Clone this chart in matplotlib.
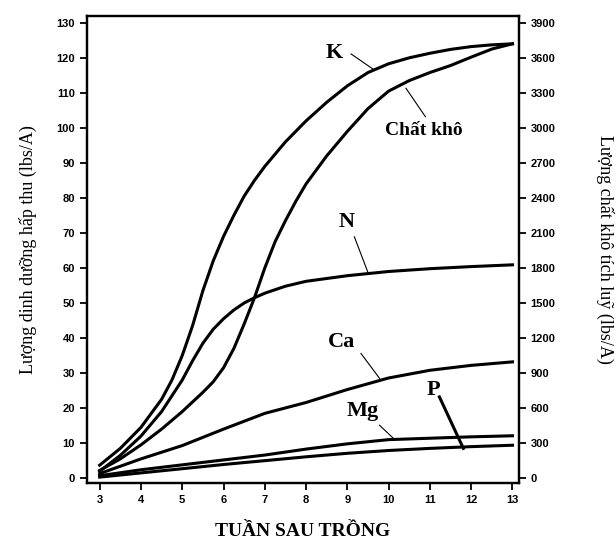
import matplotlib
matplotlib.use("Agg")
import matplotlib.pyplot as plt
import numpy as np

# tuần sau trồng
weeks_k = [3, 3.5, 4, 4.5, 4.75, 5, 5.25, 5.5, 5.75, 6, 6.25, 6.5, 6.75, 7, 7.5,
           8, 8.5, 9, 9.5, 10, 10.5, 11, 11.5, 12, 12.5, 13]
k_vals = [3.7, 8.5, 14.5, 22.5, 28, 35, 43.5, 53.5, 62, 69, 75, 80.5, 85, 89,
          96, 102, 107.3, 112, 115.8, 118.3, 120, 121.3, 122.4, 123.2, 123.7, 124]

weeks_dm = [3, 3.5, 4, 4.5, 5, 5.5, 5.75, 6, 6.25, 6.5, 6.75, 7, 7.25, 7.5, 7.75,
            8, 8.25, 8.5, 8.75, 9, 9.5, 10, 10.5, 11, 11.5, 12, 12.5, 13]
dm_vals = [66, 165, 285, 420, 570, 735, 825, 945, 1110, 1320, 1545, 1800, 2025,
           2205, 2370, 2520, 2640, 2760, 2865, 2970, 3165, 3315, 3405, 3474,
           3534, 3606, 3675, 3720]

weeks_n = [3, 3.5, 4, 4.5, 5, 5.25, 5.5, 5.75, 6, 6.25, 6.5, 6.75, 7, 7.5, 8, 9,
           10, 11, 12, 13]
n_vals = [2, 6.5, 12, 19, 28, 33.5, 38.5, 42.5, 45.5, 48, 50, 51.5, 52.8, 54.8,
          56.2, 57.8, 59, 59.8, 60.4, 60.9]

weeks = [3, 4, 5, 6, 7, 8, 9, 10, 11, 12, 13]
ca_vals = [1.3, 5.5, 9.3, 14, 18.5, 21.6, 25.3, 28.6, 30.8, 32.2, 33.2]
mg_vals = [0.7, 2.4, 3.8, 5.2, 6.6, 8.3, 9.8, 11, 11.4, 11.8, 12.1]
p_vals = [0.3, 1.5, 2.7, 3.9, 5, 6.1, 7.1, 7.9, 8.5, 9, 9.4]

yticks_left = list(range(0, 131, 10))
yticks_right = list(range(0, 3901, 300))

fig = plt.figure(figsize=(6.16, 5.44), dpi=100)
ax = fig.add_axes([0.141, 0.112, 0.701, 0.859])
ax2 = ax.twinx()

lw = 2.2
ax.plot(weeks_k, k_vals, color='black', lw=lw)
ax.plot(weeks_n, n_vals, color='black', lw=lw)
ax.plot(weeks, ca_vals, color='black', lw=lw)
ax.plot(weeks, mg_vals, color='black', lw=lw)
ax.plot(weeks, p_vals, color='black', lw=lw)
ax2.plot(weeks_dm, dm_vals, color='black', lw=lw)

ax.set_xlim(2.69, 13.15)
ax.set_ylim(-1.4, 132)
ax2.set_ylim(-42, 3960)
ax.set_xticks(weeks)
ax.set_yticks(yticks_left)
ax2.set_yticks(yticks_right)

for a in (ax, ax2):
    for s in a.spines.values():
        s.set_linewidth(1.6)
    a.tick_params(length=5, width=1.3, labelsize=8)
    for lab in a.get_xticklabels() + a.get_yticklabels():
        lab.set_fontweight('bold')
        lab.set_family('Liberation Sans')

serif = 'Liberation Serif'
ax.set_xlabel('TUẦN SAU TRỒNG', family=serif, fontweight='bold', fontsize=14, labelpad=13)
ax.set_ylabel('Lượng dinh dưỡng hấp thu (lbs/A)', family=serif, fontsize=13, labelpad=14)
ax2.set_ylabel('Lượng chất khô tích luỹ (lbs/A)', family=serif, fontsize=13,
               rotation=-90, labelpad=42)

# nhãn các đường
lab_kw = dict(family=serif, fontweight='bold', fontsize=16, ha='center', va='center')
ax.text(8.69, 121.3, 'K', **lab_kw)
ax.plot([9.09, 9.62], [121.1, 116.8], color='black', lw=0.8)
ax.text(10.85, 99.3, 'Chất khô', family=serif, fontweight='bold', fontsize=14,
        ha='center', va='center')
ax.plot([10.42, 10.89], [111.3, 103.2], color='black', lw=0.8)
ax.text(8.98, 73.1, 'N', **lab_kw)
ax.plot([9.17, 9.5], [68.9, 58.7], color='black', lw=0.8)
ax.text(8.86, 38.9, 'Ca', **lab_kw)
ax.plot([9.33, 9.78], [35.6, 28.5], color='black', lw=0.8)
ax.text(9.37, 19.1, 'Mg', **lab_kw)
ax.plot([9.78, 10.14], [15.1, 11.1], color='black', lw=0.8)
ax.text(11.09, 25.2, 'P', **lab_kw)
ax.plot([11.23, 11.81], [23.2, 8.5], color='black', lw=2.2)

fig.savefig('out.png', dpi=100)
